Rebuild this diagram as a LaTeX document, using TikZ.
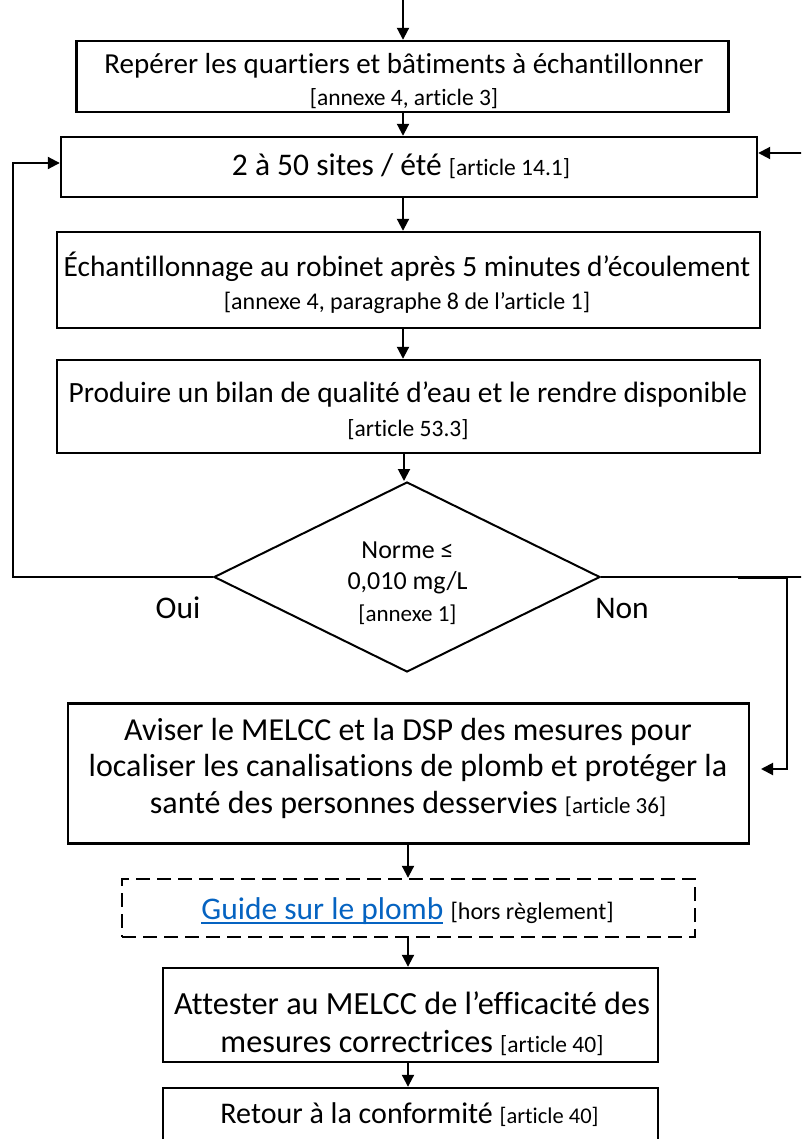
\documentclass[tikz,border=0pt]{standalone}
\usepackage{fontspec}
\setmainfont{Carlito}[Ligatures=NoCommon]
\usetikzlibrary{arrows.meta,shapes.geometric}
\definecolor{linkblue}{HTML}{0563C1}
\newcommand{\fs}[2]{\fontsize{#1pt}{#2pt}\selectfont\spaceskip=0pt\xspaceskip=0pt\relax}
\newcommand{\myul}[1]{\setbox0\hbox{#1}\rlap{\rule[-5pt]{\wd0}{2pt}}\box0}
\begin{document}
\begin{tikzpicture}[x=1pt,y=-1pt,
  box/.style={draw,line width=2.4pt,inner sep=0pt},
  dbox/.style={box,dash pattern=on 14pt off 7pt},
  txt/.style={inner sep=0pt,text width=720pt,align=flush center},
  arr/.style={line width=2pt,-{Triangle[length=12pt,width=12pt]}},
  ln/.style={line width=2pt},
  lab/.style={inner sep=0pt,font=\fs{31.5}{34}}]
\useasboundingbox (0,0) rectangle (801,1139);
\clip (0,0) rectangle (801,1139);
% frames
\node[box,minimum width=652pt,minimum height=71pt] (b1) at (402.5,76.5) {};
\node[box,minimum width=696pt,minimum height=60pt] (b2) at (409,167) {};
\node[box,minimum width=703pt,minimum height=96pt] (b3) at (408.5,280) {};
\node[box,minimum width=703pt,minimum height=93pt] (b4) at (408.5,406.5) {};
\node[draw,diamond,line width=2pt,inner sep=0pt,minimum width=386pt,minimum height=190pt] (d) at (407,577) {};
\node[box,minimum width=681pt,minimum height=140pt] (b5) at (408.5,773.5) {};
\node[dbox,minimum width=573pt,minimum height=58pt] (b6) at (408.5,908) {};
\node[box,minimum width=495pt,minimum height=94pt] (b7) at (410.5,1015) {};
\node[box,minimum width=495pt,minimum height=60pt] (b8) at (410.5,1118) {};
% texts
\node[txt] (t1) at (404,81)
  {\fs{29}{32}Repérer les quartiers et bâtiments à échantillonner\\\fs{23.5}{32}[annexe 4, article 3]\par};
\node[txt] (t2) at (401,166)
  {\fs{31.5}{34}2 à 50 sites / été \fs{23.5}{34}[article 14.1]\par};
\node[txt] (t3) at (407,282.5)
  {\fs{29.4}{33}Échantillonnage au robinet après 5 minutes d’écoulement\\\fs{24}{33}[annexe 4, paragraphe 8 de l’article 1]\par};
\node[txt] (t4) at (408,410.5)
  {\fs{29.4}{34}Produire un bilan de qualité d’eau et le rendre disponible\\\fs{23.5}{34}[article 53.3]\par};
\node[txt] (td) at (407.5,583)
  {\fs{26}{31.5}Norme ≤\\0,010 mg/L\\\fs{23}{31.5}[annexe 1]\par};
\node[lab] (oui) at (178,608) {Oui};
\node[lab] (non) at (622,608) {Non};
\node[txt] (t5) at (408,768)
  {\fs{32}{36.5}Aviser le MELCC et la DSP des mesures pour\\localiser les canalisations de plomb et protéger la\\santé des personnes desservies \fs{23}{36.5}[article 36]\par};
\node[txt] (t6) at (407.5,911)
  {\fs{31.5}{34}\textcolor{linkblue}{\myul{Guide sur le plomb}} \fs{24}{34}[hors règlement]\par};
\node[txt] (t7) at (412,1024)
  {\fs{32.3}{38}Attester au MELCC de l’efficacité des\\mesures correctrices \fs{23.5}{38}[article 40]\par};
\node[txt] (t8) at (409.5,1115)
  {\fs{30}{34}Retour à la conformité \fs{22.5}{34}[article 40]\par};
% coordinates
\coordinate (top) at (403,0);
\coordinate (m2) at (404,0);
\coordinate (ax) at (408,0);
\coordinate (L1) at (13,577);
\coordinate (L2) at (13,163);
\coordinate (Rout) at (805,577);
\coordinate (R0) at (805,153);
\coordinate (R1) at (738,578);
\coordinate (R2) at (787,578);
\coordinate (R3) at (787,769);
\coordinate (R4) at (761,769);
% connectors
\draw[arr] (top) -- (top |- b1.north);
\draw[arr] (top |- b1.south) -- (top |- b2.north);
\draw[arr] (top |- b2.south) -- (top |- b3.north);
\draw[arr] (top |- b3.south) -- (top |- b4.north);
\draw[arr] (m2 |- b4.south) -- (m2 |- d.north);
\draw[arr] (d.west) -- (L1) -- (L2) -- (b2.west |- L2);
\draw[ln] (d.east) -- (Rout);
\draw[arr] (R0) -- (b2.east |- R0);
\draw[arr] (R1) -- (R2) -- (R3) -- (R4);
\draw[arr] (ax |- b5.south) -- (ax |- b6.north);
\draw[arr] (ax |- b6.south) -- (ax |- b7.north);
\draw[arr] (ax |- b7.south) -- (ax |- b8.north);
\end{tikzpicture}
\end{document}
